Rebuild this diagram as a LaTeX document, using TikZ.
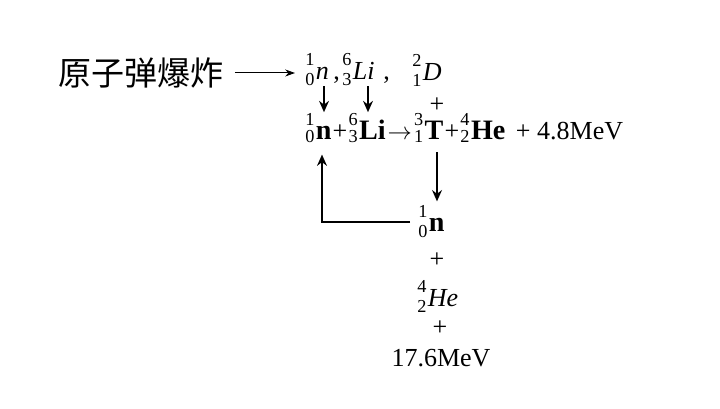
\documentclass[tikz,border=0pt]{standalone}
\usepackage{fontspec}
\setmainfont{Liberation Serif}
\newfontfamily\cjk{Noto Sans CJK SC}
\usetikzlibrary{positioning}
\usetikzlibrary{arrows.meta}
% nuclide: [lowering of the lower index]{mass}{charge}{symbol}
\newcommand{\iso}[4][4pt]{{\fontsize{13}{13}\selectfont\rlap{\raisebox{10pt}{#2}}\raisebox{-#1}{#3}}\kern1pt#4}
\newcommand{\nb}[1]{{\fontsize{20}{22}\selectfont\bfseries #1}}

\begin{document}
\begin{tikzpicture}[
    eq/.style={inner sep=0pt, font=\fontsize{18.5}{20}\selectfont},
    flow/.style={-{Stealth[length=8pt,width=7pt]}, line width=1.3pt},
    feed/.style={-{Stealth[length=7pt,width=5pt]}, line width=0.7pt}
  ]
    \useasboundingbox (0,0) rectangle (18,10.225);

    % source
    \node[inner sep=0pt, font=\cjk\fontsize{23.5}{25}\selectfont] (bomb) at (3.525,8.4) {原子弹爆炸};

    % top row
    \node[eq, anchor=base west] (n0) at (7.625,8.225) {\iso{1}{0}{\textit{n}}};
    \node[eq, anchor=base west] (c1) at (8.325,8.225) {,};
    \node[eq, anchor=base west] (li0) at (8.55,8.225) {\iso{6}{3}{\textit{Li}}};
    \node[eq, anchor=base west] (c2) at (9.575,8.225) {,};
    \node[eq, anchor=base west] (d0) at (10.3,8.2) {\iso{2}{1}{\textit{D}}};
    \node[eq] (pd) at (10.925,7.6) {+};

    % reaction
    \node[eq, anchor=base west] (n1) at (7.625,6.725) {\iso[1.5pt]{1}{0}{\nb{n}}};
    \node[eq, base right=0.5pt of n1] (p1) {+};
    \node[eq, base right=0.5pt of p1] (li1) {\iso[1.5pt]{6}{3}{\nb{Li}}};
    \node[eq, base right=1pt of li1] (ar) {$\rightarrow$};
    \node[eq, base right=1pt of ar] (t1) {\iso[1.5pt]{3}{1}{\nb{T}}};
    \node[eq, base right=0.5pt of t1] (p2) {+};
    \node[eq, base right=0.5pt of p2] (he1) {\iso[1.5pt]{4}{2}{\nb{He}}};
    \node[eq, base right=0.25cm of he1] (e1) {+ 4.8MeV};

    % products
    \coordinate (col) at (10.925,0);
    \node[eq, anchor=base west] (n2) at (10.45,4.425) {\iso{1}{0}{\nb{n}}};
    \node[eq] (p3) at (10.925,3.725) {+};
    \node[eq, anchor=base west] (he2) at (10.425,2.55) {\iso{4}{2}{\textit{He}}};
    \node[eq] (p4) at (11.0,2.025) {+};
    \node[eq, anchor=base] (mev) at (11.025,1.05) {17.6MeV};

    % connectors
    \draw[feed, shorten <=0.275cm, shorten >=0.25cm] (bomb.east) -- (bomb.east -| n0.west);
    \draw[flow, shorten >=1pt] ([xshift=0.475cm]n0.south west) -- ([xshift=0.475cm]n0.south west |- n1.north);
    \draw[flow, shorten >=1pt] ([xshift=0.65cm]li0.south west) -- ([xshift=0.65cm]li0.south west |- n1.north);
    \draw[flow, shorten <=0.25cm, shorten >=3pt] (t1.south -| col) -- (n2.north -| col);
    \draw[flow, shorten <=0.2cm, shorten >=0.3cm] (n2.west) -| ([xshift=0.425cm]n1.south west);
\end{tikzpicture}
\end{document}
